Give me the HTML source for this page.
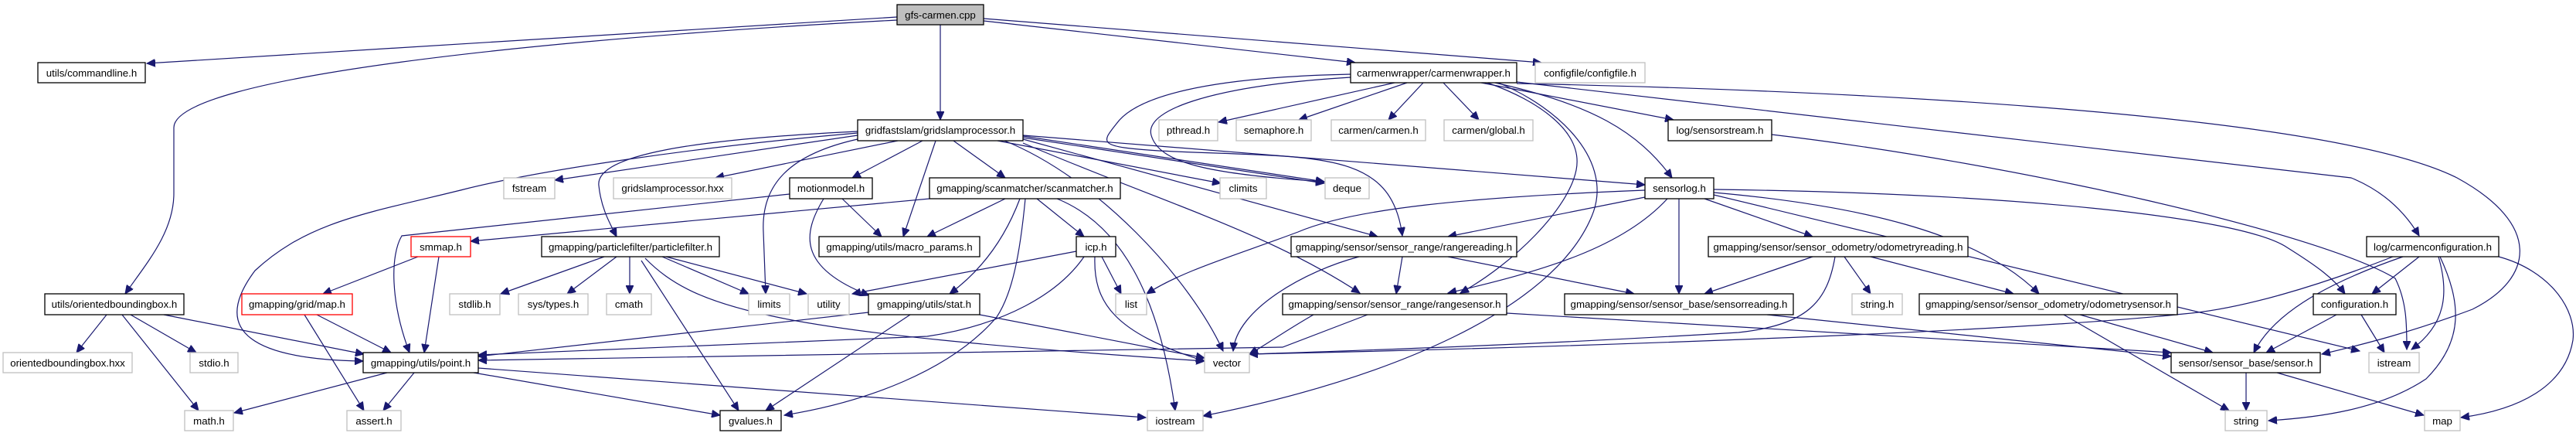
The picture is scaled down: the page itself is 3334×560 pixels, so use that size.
<!DOCTYPE html>
<html><head><meta charset="utf-8"><style>
html,body{margin:0;padding:0;background:#fff;}
svg{display:block;}
text{font-family:"Liberation Sans",Arial,sans-serif;font-size:13.3px;fill:#000;text-anchor:middle;}
.e{fill:none;stroke:#191970;stroke-width:1.2;marker-end:url(#a);}
.b{fill:#fff;stroke:#000;stroke-width:1.3;}
.g{fill:#fff;stroke:#bfbfbf;stroke-width:1.3;}
.r{fill:#fff;stroke:#ff0000;stroke-width:1.3;}
</style></head><body>
<svg width="3334" height="560" viewBox="0 0 3334 560" xmlns="http://www.w3.org/2000/svg">
<defs><marker id="a" markerUnits="userSpaceOnUse" markerWidth="12" markerHeight="10" refX="11" refY="5" orient="auto"><path d="M0,0 L11,5 L0,10 Z" fill="#191970" stroke="#191970"/></marker></defs>
<g>
<path class="e" d="M1161,22 L190,82"/>
<path class="e" d="M1161,26 C700,50 225,100 225,165 L225,250 C225,300 190,340 162,380"/>
<path class="e" d="M1217,32 L1217,155"/>
<path class="e" d="M1273,27 L1754,81"/>
<path class="e" d="M1273,24 L1995,81"/>
<path class="e" d="M1805,107 L1577,158"/>
<path class="e" d="M1821,107 L1681,155"/>
<path class="e" d="M1842,107 L1797,155"/>
<path class="e" d="M1868,107 L1914,155"/>
<path class="e" d="M1917,107 L2166,155"/>
<path class="e" d="M1935,107 C2060,135 2120,170 2164,230"/>
<path class="e" d="M1925,107 C1990,130 2050,170 2040,220 C2030,270 1960,340 1890,379"/>
<path class="e" d="M1939,107 C2020,140 2090,210 2060,280 C2010,400 1800,490 1557,538"/>
<path class="e" d="M1963,106 L3043,230 C3080,245 3110,270 3131,305"/>
<path class="e" d="M1963,108 C2300,115 3000,140 3180,230 C3290,290 3280,360 3200,400 C3120,430 3060,445 3005,458"/>
<path class="e" d="M1748,96 C1560,100 1470,125 1445,160 C1425,185 1420,190 1500,195 C1700,205 1800,190 1815,305"/>
<path class="e" d="M1748,100 C1580,110 1480,140 1490,175 C1500,210 1560,225 1714,235"/>
<path class="e" d="M1110,175 L718,233"/>
<path class="e" d="M1162,182 L926,230"/>
<path class="e" d="M1194,182 L1103,230"/>
<path class="e" d="M1234,182 L1301,230"/>
<path class="e" d="M1211,182 L1169,306"/>
<path class="e" d="M1110,180 C1020,200 985,240 988,300 L991,380"/>
<path class="e" d="M1110,170 C900,180 770,200 775,240 C778,270 790,290 798,306"/>
<path class="e" d="M1110,172 C900,190 700,220 600,245 C480,275 400,285 330,350 C270,430 330,465 470,467"/>
<path class="e" d="M1300,182 C1420,230 1540,360 1583,454"/>
<path class="e" d="M1291,182 L1580,237"/>
<path class="e" d="M1324,176 L1714,235"/>
<path class="e" d="M1324,178 L1714,237"/>
<path class="e" d="M1324,175 L2129,239"/>
<path class="e" d="M1324,180 L1783,306"/>
<path class="e" d="M1324,185 C1500,260 1640,300 1760,379"/>
<path class="e" d="M1090,257 L1141,306"/>
<path class="e" d="M1066,257 C1040,300 1030,345 1125,382"/>
<path class="e" d="M1022,251 L520,305 C505,330 505,390 530,456"/>
<path class="e" d="M1203,257 L609,312"/>
<path class="e" d="M1301,257 L1200,306"/>
<path class="e" d="M1342,257 L1403,306"/>
<path class="e" d="M1320,257 C1300,310 1270,350 1229,380"/>
<path class="e" d="M1327,257 C1320,330 1310,380 1290,410 C1230,480 1120,520 1015,537"/>
<path class="e" d="M1368,257 C1450,290 1500,380 1521,531"/>
<path class="e" d="M1393,325 L1103,380"/>
<path class="e" d="M1426,332 L1451,380"/>
<path class="e" d="M1417,332 C1415,390 1440,430 1559,467"/>
<path class="e" d="M1403,332 C1370,380 1300,420 1200,435 L619,459"/>
<path class="e" d="M782,332 L648,380"/>
<path class="e" d="M798,332 L734,380"/>
<path class="e" d="M815,332 L815,380"/>
<path class="e" d="M857,332 L969,380"/>
<path class="e" d="M862,332 L1044,380"/>
<path class="e" d="M835,334 C900,400 1000,430 1559,467"/>
<path class="e" d="M830,337 L956,531"/>
<path class="e" d="M541,332 L418,380"/>
<path class="e" d="M568,332 L549,456"/>
<path class="e" d="M410,407 L506,456"/>
<path class="e" d="M394,407 L471,531"/>
<path class="e" d="M138,407 L99,456"/>
<path class="e" d="M169,407 L254,456"/>
<path class="e" d="M158,407 L257,531"/>
<path class="e" d="M212,407 L471,458"/>
<path class="e" d="M501,482 L303,534"/>
<path class="e" d="M536,482 L496,531"/>
<path class="e" d="M613,482 L932,537"/>
<path class="e" d="M619,476 L1483,540"/>
<path class="e" d="M1178,407 L991,531"/>
<path class="e" d="M1268,407 L1559,463"/>
<path class="e" d="M1124,404 L619,461"/>
<path class="e" d="M1770,407 L1660,449 L619,466"/>
<path class="e" d="M1700,407 C1660,430 1640,445 1617,458"/>
<path class="e" d="M1950,405 L2810,456"/>
<path class="e" d="M1815,332 L1807,380"/>
<path class="e" d="M1874,332 L2115,380"/>
<path class="e" d="M1759,332 C1690,350 1600,400 1596,454"/>
<path class="e" d="M2129,255 L1874,306"/>
<path class="e" d="M2158,257 C2100,320 2000,350 1874,379"/>
<path class="e" d="M2173,257 L2173,380"/>
<path class="e" d="M2206,257 L2346,306"/>
<path class="e" d="M2129,246 C1900,255 1750,270 1680,300 C1600,330 1530,350 1484,380"/>
<path class="e" d="M2218,249 C2400,265 2560,300 2639,380"/>
<path class="e" d="M2218,245 C2600,250 2900,280 2960,320 C3000,345 3020,360 3035,380"/>
<path class="e" d="M2218,252 L3054,454"/>
<path class="e" d="M2346,332 L2206,380"/>
<path class="e" d="M2387,332 L2421,380"/>
<path class="e" d="M2421,332 L2606,380"/>
<path class="e" d="M2375,332 C2365,390 2340,420 2250,430 C2000,445 1800,452 1617,458"/>
<path class="e" d="M2287,407 L2810,461"/>
<path class="e" d="M2692,407 L2864,456"/>
<path class="e" d="M2671,407 L2885,531"/>
<path class="e" d="M3110,332 C3000,370 2940,410 2917,456"/>
<path class="e" d="M3131,332 L3070,380"/>
<path class="e" d="M3156,332 C3170,380 3165,420 3121,452"/>
<path class="e" d="M3158,332 C3185,390 3190,440 3140,490 C3080,530 3000,540 2936,544"/>
<path class="e" d="M3234,332 C3300,350 3335,400 3330,440 C3320,500 3260,530 3185,540"/>
<path class="e" d="M3097,332 C3000,370 2900,400 2826,406 C2600,430 2000,450 1617,458"/>
<path class="e" d="M3024,407 L2933,456"/>
<path class="e" d="M3056,407 L3086,456"/>
<path class="e" d="M2907,482 L2907,531"/>
<path class="e" d="M2947,482 L3137,537"/>
<path class="e" d="M2293,174 C2600,210 3000,300 3100,360 C3115,390 3115,420 3115,452"/>
</g>
<g>
<rect x="1161" y="6" width="112" height="26" fill="#bfbfbf" stroke="#000" stroke-width="1.3"/><text x="1217" y="24">gfs-carmen.cpp</text>
<rect class="b" x="49" y="81" width="139" height="26"/><text x="118.5" y="99">utils/commandline.h</text>
<rect class="b" x="1748" y="81" width="215" height="26"/><text x="1855.5" y="99">carmenwrapper/carmenwrapper.h</text>
<rect class="g" x="1987" y="81" width="142" height="26"/><text x="2058" y="99">configfile/configfile.h</text>
<rect class="b" x="1110" y="155" width="214" height="27"/><text x="1217" y="173">gridfastslam/gridslamprocessor.h</text>
<rect class="g" x="1500" y="155" width="76" height="27"/><text x="1538" y="173">pthread.h</text>
<rect class="g" x="1600" y="155" width="97" height="27"/><text x="1648.5" y="173">semaphore.h</text>
<rect class="g" x="1723" y="155" width="122" height="27"/><text x="1784" y="173">carmen/carmen.h</text>
<rect class="g" x="1869" y="155" width="115" height="27"/><text x="1926.5" y="173">carmen/global.h</text>
<rect class="b" x="2159" y="155" width="134" height="27"/><text x="2226" y="173">log/sensorstream.h</text>
<rect class="g" x="652" y="230" width="66" height="27"/><text x="685" y="248">fstream</text>
<rect class="g" x="794" y="230" width="153" height="27"/><text x="870.5" y="248">gridslamprocessor.hxx</text>
<rect class="b" x="1022" y="230" width="107" height="27"/><text x="1075.5" y="248">motionmodel.h</text>
<rect class="b" x="1203" y="230" width="247" height="27"/><text x="1326.5" y="248">gmapping/scanmatcher/scanmatcher.h</text>
<rect class="g" x="1579" y="230" width="60" height="27"/><text x="1609" y="248">climits</text>
<rect class="g" x="1715" y="230" width="57" height="27"/><text x="1743.5" y="248">deque</text>
<rect class="b" x="2129" y="230" width="89" height="27"/><text x="2173.5" y="248">sensorlog.h</text>
<rect class="r" x="532" y="306" width="77" height="26"/><text x="570.5" y="324">smmap.h</text>
<rect class="b" x="701" y="306" width="230" height="26"/><text x="816" y="324">gmapping/particlefilter/particlefilter.h</text>
<rect class="b" x="1060" y="306" width="208" height="26"/><text x="1164" y="324">gmapping/utils/macro_params.h</text>
<rect class="b" x="1393" y="306" width="51" height="26"/><text x="1418.5" y="324">icp.h</text>
<rect class="b" x="1671" y="306" width="292" height="26"/><text x="1817" y="324">gmapping/sensor/sensor_range/rangereading.h</text>
<rect class="b" x="2211" y="306" width="336" height="26"/><text x="2379" y="324">gmapping/sensor/sensor_odometry/odometryreading.h</text>
<rect class="b" x="3063" y="306" width="171" height="26"/><text x="3148.5" y="324">log/carmenconfiguration.h</text>
<rect class="b" x="58" y="380" width="180" height="27"/><text x="148" y="398">utils/orientedboundingbox.h</text>
<rect class="r" x="313" y="380" width="143" height="27"/><text x="384.5" y="398">gmapping/grid/map.h</text>
<rect class="g" x="582" y="380" width="65" height="27"/><text x="614.5" y="398">stdlib.h</text>
<rect class="g" x="671" y="380" width="90" height="27"/><text x="716" y="398">sys/types.h</text>
<rect class="g" x="785" y="380" width="58" height="27"/><text x="814" y="398">cmath</text>
<rect class="g" x="969" y="380" width="53" height="27"/><text x="995.5" y="398">limits</text>
<rect class="g" x="1046" y="380" width="53" height="27"/><text x="1072.5" y="398">utility</text>
<rect class="b" x="1124" y="380" width="144" height="27"/><text x="1196" y="398">gmapping/utils/stat.h</text>
<rect class="g" x="1444" y="380" width="40" height="27"/><text x="1464" y="398">list</text>
<rect class="b" x="1660" y="380" width="290" height="27"/><text x="1805" y="398">gmapping/sensor/sensor_range/rangesensor.h</text>
<rect class="b" x="2025" y="380" width="296" height="27"/><text x="2173" y="398">gmapping/sensor/sensor_base/sensorreading.h</text>
<rect class="g" x="2397" y="380" width="65" height="27"/><text x="2429.5" y="398">string.h</text>
<rect class="b" x="2484" y="380" width="334" height="27"/><text x="2651" y="398">gmapping/sensor/sensor_odometry/odometrysensor.h</text>
<rect class="b" x="2994" y="380" width="107" height="27"/><text x="3047.5" y="398">configuration.h</text>
<rect class="g" x="4" y="456" width="167" height="26"/><text x="87.5" y="474">orientedboundingbox.hxx</text>
<rect class="g" x="246" y="456" width="62" height="26"/><text x="277" y="474">stdio.h</text>
<rect class="b" x="470" y="456" width="149" height="26"/><text x="544.5" y="474">gmapping/utils/point.h</text>
<rect class="g" x="1559" y="456" width="58" height="26"/><text x="1588" y="474">vector</text>
<rect class="b" x="2810" y="456" width="193" height="26"/><text x="2906.5" y="474">sensor/sensor_base/sensor.h</text>
<rect class="g" x="3066" y="456" width="65" height="26"/><text x="3098.5" y="474">istream</text>
<rect class="g" x="239" y="531" width="63" height="26"/><text x="270.5" y="549">math.h</text>
<rect class="g" x="449" y="531" width="70" height="26"/><text x="484" y="549">assert.h</text>
<rect class="b" x="932" y="531" width="79" height="26"/><text x="971.5" y="549">gvalues.h</text>
<rect class="g" x="1485" y="531" width="72" height="26"/><text x="1521" y="549">iostream</text>
<rect class="g" x="2880" y="531" width="54" height="26"/><text x="2907" y="549">string</text>
<rect class="g" x="3138" y="531" width="46" height="26"/><text x="3161" y="549">map</text>
</g>
</svg>
</body></html>
